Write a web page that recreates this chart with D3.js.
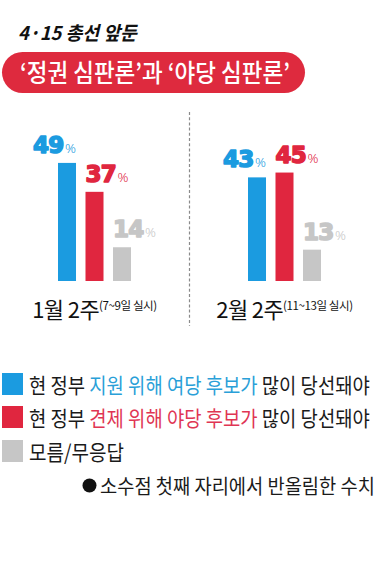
<!DOCTYPE html>
<html><head><meta charset="utf-8">
<script src="https://cdn.jsdelivr.net/npm/d3@7"></script>
<style>
html,body{margin:0;padding:0;background:#fff;}
svg{display:block;}
</style></head>
<body>
<svg id="chart" width="380" height="565"></svg>
<script>
const title = "4·15 총선 앞둔";
const banner = "‘정권 심판론’과 ‘야당 심판론’";
const periods = ["1월 2주", "2월 2주"];
const periodNotes = ["(7~9일 실시)", "(11~13일 실시)"];
const seriesKeys = ["support", "check", "unknown"];
const supportValues = [49, 43];
const checkValues = [37, 45];
const unknownValues = [14, 13];
const legendPrefix = ["현 정부 ", "현 정부 ", ""];
const legendHighlight = ["지원 위해 여당 후보가", "견제 위해 야당 후보가", ""];
const legendSuffix = [" 많이 당선돼야", " 많이 당선돼야", "모름/무응답"];
const footnote = "소수점 첫째 자리에서 반올림한 수치";

const colors = {support: "#1b9be0", check: "#e0263f", unknown: "#c6c6c6"};
const textColors = {support: "#2a9fd8", check: "#e03553", unknown: "#222"};
const KR = "'Noto Sans CJK KR','Noto Sans',sans-serif";

const valuesBySeries = {support: supportValues, check: checkValues, unknown: unknownValues};

const svg = d3.select("#chart");

// place text at (x, baseline y) and squeeze horizontally to a target width
function fit(sel, x, yb, w) {
  const n = sel.node().getComputedTextLength();
  const s = w / n;
  sel.attr("x", 0).attr("y", 0).attr("transform", `translate(${x},${yb}) scale(${s},1)`);
  return sel;
}

// Title
fit(svg.append("text")
  .attr("font-family", KR).attr("font-weight", 700).attr("font-style", "italic")
  .attr("font-size", 19).attr("fill", "#111")
  .text(title), 18, 40, 119);

// Banner pill
svg.append("rect").attr("x", 2).attr("y", 52).attr("width", 303).attr("height", 41)
  .attr("rx", 20.5).attr("fill", "#de2a3e");
fit(svg.append("text")
  .attr("font-family", KR).attr("font-weight", 500)
  .attr("font-size", 25).attr("fill", "#fff")
  .text(banner), 20, 82, 270);

// Scales
const x0 = d3.scaleBand().domain(periods).range([0, 380]);
const x1 = d3.scaleBand().domain(seriesKeys).range([58, 131]).paddingInner(0.345).paddingOuter(0);
const y = d3.scaleLinear().domain([0, 50]).range([281, 160.5]);

// Divider
svg.append("line").attr("x1", 189.5).attr("x2", 189.5).attr("y1", 112).attr("y2", 326)
  .attr("stroke", "#8a8a8a").attr("stroke-width", 1.2).attr("stroke-dasharray", "3,2.2");

const data = [];
periods.forEach((p, i) => seriesKeys.forEach(k => data.push({period: p, key: k, value: valuesBySeries[k][i]})));

const g = svg.append("g");
g.selectAll("rect.bar").data(data).enter().append("rect")
  .attr("class", "bar")
  .attr("x", d => x0(d.period) + x1(d.key))
  .attr("y", d => y(d.value))
  .attr("width", x1.bandwidth())
  .attr("height", d => y(0) - y(d.value))
  .attr("fill", d => colors[d.key]);

// Value labels
const lab = g.selectAll("text.val").data(data).enter().append("text")
  .attr("class", "val")
  .attr("x", d => d.key === "support" ? x0(d.period) + x1(d.key) + x1.bandwidth() : x0(d.period) + x1(d.key))
  .attr("y", d => y(d.value) - 10)
  .attr("text-anchor", d => d.key === "support" ? "end" : "start")
  .attr("fill", d => colors[d.key]);
lab.append("tspan")
  .attr("font-family", "'DejaVu Sans',sans-serif").attr("font-weight", 700)
  .attr("font-size", 23).attr("stroke", d => colors[d.key]).attr("stroke-width", 1.6)
  .attr("stroke-linejoin", "round")
  .attr("letter-spacing", -0.8)
  .text(d => d.value);
lab.append("tspan")
  .attr("font-family", "'Noto Sans',sans-serif").attr("font-weight", 300)
  .attr("font-size", 13.5).attr("dx", 1.5)
  .text("%");

// Period labels
const pl = g.selectAll("text.period").data(periods).enter().append("text")
  .attr("class", "period")
  .attr("x", d => x0(d) + (x1.range()[0] + x1.range()[1]) / 2)
  .attr("y", 318).attr("text-anchor", "middle")
  .attr("font-family", KR).attr("fill", "#111");
pl.append("tspan").attr("font-size", 22).attr("font-weight", 400).attr("letter-spacing", -0.6).text(d => d);
pl.append("tspan").attr("font-size", 11.5).attr("dy", -8).attr("letter-spacing", -0.4)
  .text((d, i) => periodNotes[i]);

// Legend
const lg = svg.append("g");
const rowsY = [373, 406, 440];
const legendWidths = [341, 341, 95];
seriesKeys.forEach((k, i) => {
  lg.append("rect").attr("x", 2).attr("y", rowsY[i]).attr("width", 21).attr("height", 22)
    .attr("fill", colors[k]);
  const t = lg.append("text")
    .attr("font-family", KR).attr("font-size", 21).attr("fill", "#1a1a1a");
  if (legendPrefix[i]) t.append("tspan").text(legendPrefix[i]);
  if (legendHighlight[i]) t.append("tspan").attr("fill", textColors[k]).text(legendHighlight[i]);
  t.append("tspan").text(legendSuffix[i]);
  fit(t, 29, rowsY[i] + 20, legendWidths[i]);
});

// Footnote
svg.append("circle").attr("cx", 89.5).attr("cy", 485.5).attr("r", 7).attr("fill", "#111");
fit(svg.append("text")
  .attr("font-family", KR).attr("font-size", 20).attr("fill", "#1a1a1a")
  .text(footnote), 100, 494, 275);
</script>
</body></html>
